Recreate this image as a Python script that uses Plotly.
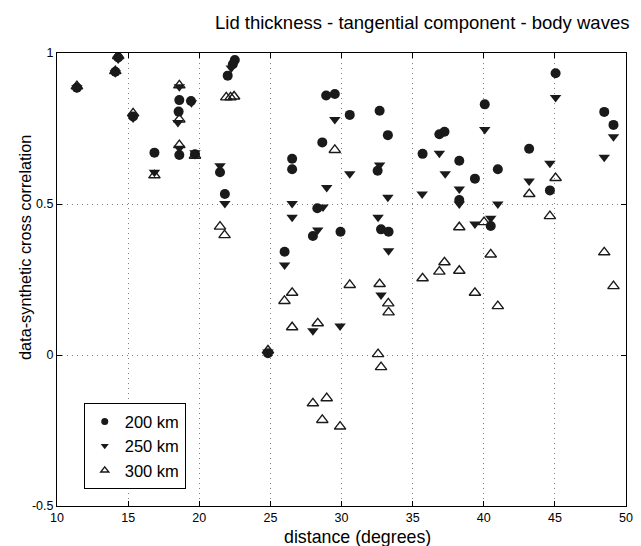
import plotly.graph_objects as go

# Cross-correlation between data and synthetics vs. epicentral distance,
# for three lid thicknesses.
dist_200 = [11.4, 14.3, 14.1, 15.35, 16.85, 18.6, 18.55, 18.6, 19.42, 19.7,
            22.0, 22.5, 22.36, 21.46, 21.8, 24.83, 26.0, 26.53, 26.53, 27.99,
            28.3, 28.65, 28.92, 29.53, 29.93, 30.58, 32.54, 32.68, 32.78, 33.26,
            33.31, 35.7, 36.88, 37.24, 38.28, 38.28, 39.38, 40.07, 40.49, 40.99,
            43.19, 44.65, 45.05, 48.47, 49.12]
corr_200 = [0.885, 0.985, 0.938, 0.79, 0.67, 0.844, 0.806, 0.662, 0.841, 0.665,
            0.925, 0.977, 0.963, 0.605, 0.533, 0.006, 0.342, 0.65, 0.615, 0.394,
            0.486, 0.704, 0.859, 0.864, 0.408, 0.795, 0.61, 0.809, 0.416, 0.728,
            0.408, 0.666, 0.731, 0.739, 0.643, 0.513, 0.584, 0.83, 0.427, 0.615,
            0.683, 0.545, 0.933, 0.805, 0.762]

dist_250 = [11.4, 14.3, 14.1, 15.35, 16.85, 18.6, 18.5, 18.6, 19.45, 19.7,
            22.25, 21.46, 21.8, 24.83, 26.0, 26.53, 26.53, 27.99, 28.33, 28.7,
            28.96, 29.53, 29.9, 30.58, 32.68, 32.57, 32.78, 33.26, 33.31, 35.67,
            36.88, 37.29, 38.28, 38.28, 39.38, 40.07, 40.49, 40.99, 43.19, 44.65,
            45.05, 48.47, 49.12]
corr_250 = [0.885, 0.98, 0.935, 0.785, 0.605, 0.888, 0.77, 0.685, 0.835, 0.67,
            0.95, 0.627, 0.502, 0.01, 0.298, 0.502, 0.456, 0.08, 0.414, 0.49,
            0.555, 0.78, 0.096, 0.60, 0.629, 0.456, 0.199, 0.522, 0.345, 0.533,
            0.668, 0.60, 0.55, 0.50, 0.434, 0.747, 0.453, 0.50, 0.576, 0.635,
            0.853, 0.655, 0.723]

dist_300 = [11.4, 14.3, 14.1, 15.35, 16.85, 18.6, 18.6, 18.6, 19.7, 21.9,
            22.2, 22.45, 21.46, 21.78, 24.83, 25.99, 26.53, 26.53, 27.99, 28.33,
            28.65, 28.96, 29.53, 29.9, 30.58, 32.57, 32.68, 32.78, 33.29, 33.31,
            35.7, 36.88, 37.24, 38.28, 38.28, 39.38, 40.02, 40.49, 40.99, 43.2,
            44.65, 45.05, 48.47, 49.12]
corr_300 = [0.89, 0.99, 0.94, 0.8, 0.595, 0.893, 0.78, 0.695, 0.66, 0.853,
            0.853, 0.856, 0.425, 0.397, 0.015, 0.179, 0.206, 0.092, -0.16, 0.105,
            -0.215, -0.143, 0.679, -0.237, 0.232, 0.003, 0.235, -0.04, 0.171, 0.141,
            0.254, 0.276, 0.307, 0.279, 0.423, 0.206, 0.44, 0.333, 0.162, 0.533,
            0.46, 0.586, 0.34, 0.228]

series_names = ["200 km", "250 km", "300 km"]
x_ticks = [10, 15, 20, 25, 30, 35, 40, 45, 50]
y_ticks = [-0.5, 0, 0.5, 1]
y_tick_text = ["-0.5", "0", "0.5", "1"]

FONT = "Liberation Sans, Arial, Helvetica, sans-serif"
INK = "#1a1a1a"

styles = [
    dict(symbol="circle", color=INK, line=dict(width=0)),
    dict(symbol="triangle-down", color=INK, line=dict(width=0)),
    dict(symbol="triangle-up-open", color=INK, line=dict(width=1.4)),
]
data = [(dist_200, corr_200), (dist_250, corr_250), (dist_300, corr_300)]

fig = go.Figure()
# scatter points (full-size markers)
for (xs, ys), st, name in zip(data, styles, series_names):
    fig.add_trace(go.Scatter(
        x=xs, y=ys, mode="markers", name=name, showlegend=False,
        marker=dict(size=10, **st),
    ))
# legend keys use smaller symbols
for i, (st, name) in enumerate(zip(styles, series_names)):
    fig.add_trace(go.Scatter(
        x=[None], y=[None], mode="markers", name=name, legendgroup=f"g{i}",
        marker=dict(size=7, **st),
    ))

axis_common = dict(
    showline=True, linecolor="black", linewidth=1, mirror="ticks",
    ticks="inside", ticklen=5, tickcolor="black",
    showgrid=True, gridcolor="#808080", griddash="1px,4px", gridwidth=1,
    zeroline=False, tickfont=dict(family=FONT, size=12.5, color="black"),
)

fig.update_xaxes(range=[10, 50], tickvals=x_ticks, **axis_common)
fig.update_yaxes(range=[-0.5, 1], tickvals=y_ticks, ticktext=y_tick_text, **axis_common)

fig.update_layout(
    width=641, height=546,
    margin=dict(l=57, r=8, t=53, b=40),
    paper_bgcolor="white", plot_bgcolor="white",
    font=dict(family=FONT, color="black"),
    showlegend=True,
    legend=dict(
        x=0.047, y=0.227, xanchor="left", yanchor="top",
        bordercolor="black", borderwidth=1, bgcolor="white",
        font=dict(family=FONT, size=16.5, color="black"),
        tracegroupgap=0, itemsizing="trace",
    ),
    annotations=[
        dict(text="Lid thickness - tangential component - body waves",
             xref="paper", yref="paper", x=(426 - 57) / 576, y=1.0, yshift=31,
             xanchor="center", yanchor="middle", showarrow=False,
             font=dict(family=FONT, size=18.5, color="black")),
        dict(text="distance (degrees)", xref="paper", yref="paper",
             x=(361 - 57) / 576, y=0, yshift=-31, xanchor="center", yanchor="middle",
             showarrow=False, font=dict(family=FONT, size=17.8, color="black")),
        dict(text="data-synthetic cross correlation", xref="paper", yref="paper",
             x=0, y=(506 - 248) / 453, xshift=-32, textangle=-90, xanchor="center",
             yanchor="middle", showarrow=False,
             font=dict(family=FONT, size=16.3, color="black")),
    ],
)

fig.write_html("out.html")
